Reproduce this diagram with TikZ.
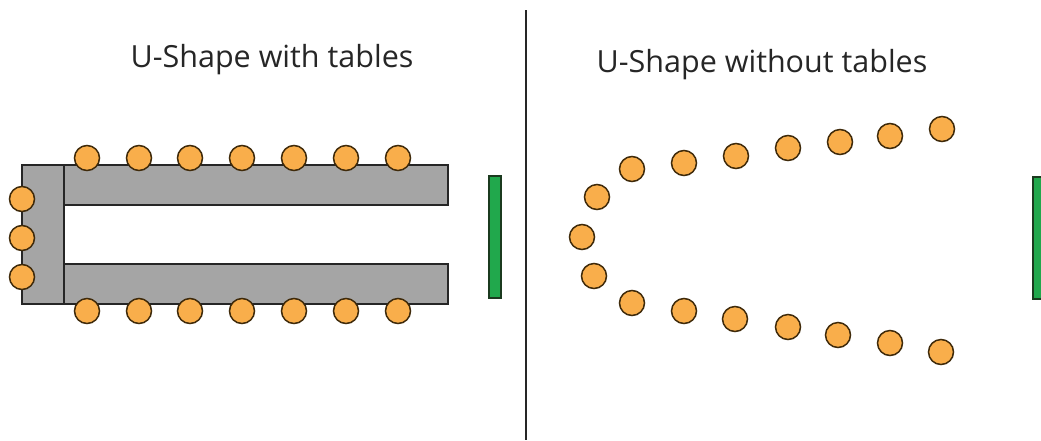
\documentclass[tikz,border=0pt]{standalone}
\usepackage{fontspec}
\setmainfont{Open Sans}
\usepackage{tikz}
\definecolor{seat}{HTML}{F9AE4B}
\definecolor{seatline}{HTML}{3F2A0A}
\definecolor{tablegray}{HTML}{A5A5A5}
\definecolor{screen}{HTML}{21A84C}
\definecolor{screenline}{HTML}{1B3A1F}
\definecolor{ink}{HTML}{262626}

\tikzset{
  chair/.style={circle, draw=seatline, fill=seat, line width=1.5pt, minimum size=25pt, inner sep=0pt},
  desk/.style={draw=ink, fill=tablegray, line width=1.3pt},
  board/.style={draw=screenline, fill=screen, line width=1.3pt},
  caption/.style={font=\fontsize{30.5}{34}\selectfont, text=ink, anchor=base}
}

\begin{document}
\begin{tikzpicture}[x=1pt, y=-1pt]
    \useasboundingbox (0,0) rectangle (1041,440);

    % Titles
    \node[caption] (titleA) at (272,67) {U-Shape with tables};
    \node[caption] (titleB) at (762,72) {U-Shape without tables};

    % Divider
    \draw[ink, line width=1.2pt] (526,10) -- (526,440);

    % Tables
    \filldraw[desk] (22,165) rectangle (64,304);
    \filldraw[desk] (64,165) rectangle (448,205);
    \filldraw[desk] (64,264) rectangle (448,304);

    % Screens
    \filldraw[board] (489,176) rectangle (501,298);
    \filldraw[board] (1033,177) rectangle (1045,299);

    % Chairs along the tables
    \foreach \i/\x in {1/87,2/139,3/190,4/242,5/294,6/346,7/398} {
        \node[chair] (top\i) at (\x,158) {};
        \node[chair] (bot\i) at (\x,311) {};
    }
    \foreach \i/\y in {1/199,2/238,3/277} {
        \node[chair] (side\i) at (22,\y) {};
    }

    % Chairs in a horseshoe
    \foreach \i/\x/\y in {1/942/129,2/890/136,3/840/142,4/788/148,5/736/156,6/684/163,7/632/169,8/597/197,
                          9/582/237,10/594/276,11/632/303,12/684/311,13/735/319,14/788/327,15/838/335,16/890/343,17/941/352} {
        \node[chair] (ring\i) at (\x,\y) {};
    }

\end{tikzpicture}
\end{document}
